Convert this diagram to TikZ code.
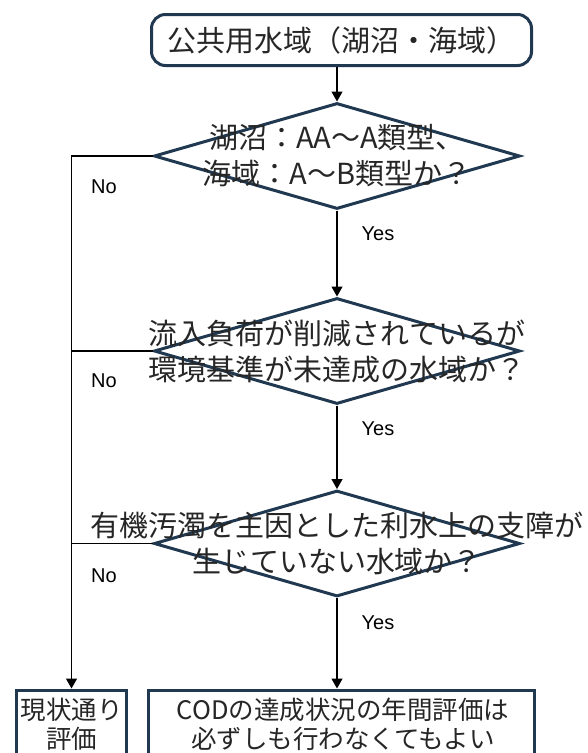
\documentclass[tikz,border=0pt]{standalone}
\usepackage{fontspec}
\newfontfamily\jpfont{Noto Sans CJK JP}
\newfontfamily\latfont{Liberation Sans}
\usetikzlibrary{shapes.geometric,arrows.meta,calc}
\definecolor{navy}{HTML}{203850}
\definecolor{inkc}{HTML}{262626}
\begin{document}
\begin{tikzpicture}[x=1pt,y=-1pt,
  startbox/.style={draw=navy,line width=3pt,rounded corners=14pt,minimum width=380pt,minimum height=51pt,inner sep=0pt,
    font=\jpfont\fontsize{29pt}{36pt}\selectfont,text=inkc},
  dia/.style={diamond,draw=navy,line width=3pt,minimum width=366pt,minimum height=106pt,inner sep=0pt},
  dtext/.style={font=\jpfont\fontsize{29pt}{36pt}\selectfont,text=inkc,align=center,inner sep=0pt},
  endbox/.style={draw=navy,line width=3pt,inner sep=0pt,minimum height=110pt,anchor=north},
  btext/.style={font=\jpfont\fontsize{25.5pt}{29pt}\selectfont,text=inkc,align=center,inner sep=0pt},
  lbl/.style={font=\latfont\fontsize{20pt}{24pt}\selectfont,text=black,inner sep=0pt},
  conn/.style={draw=black,line width=1.3pt},
  arr/.style={conn,-{Triangle[length=10pt,width=11pt]}}]
\useasboundingbox (0,0) rectangle (588,753);
\clip (0,0) rectangle (588,753);

\node[startbox] (top) at (341.5,40) {公共用水域（湖沼・海域）};

\node[dia] (d1) at (337,156) {};
\node[dia] (d2) at (337,351) {};
\node[dia] (d3) at (337,543.5) {};

\node[endbox,minimum width=110pt] (b1) at (71.5,688.5) {};
\node[endbox,minimum width=386pt] (b2) at (341.5,688.5) {};

\node[dtext] (t1) at (d1.center) {湖沼：AA～A類型、\\海域：A～B類型か？};
\node[dtext] (t2) at (d2.center) {流入負荷が削減されているが\\環境基準が未達成の水域か？};
\node[dtext] (t3) at (d3.center) {有機汚濁を主因とした利水上の支障が\\生じていない水域か？};

\node[btext] (b1t) at (71.5,724) {現状通り\\評価};
\node[btext] (b2t) at (343,724) {CODの達成状況の年間評価は\\必ずしも行わなくてもよい};

\draw[arr] (top.south -| d1.north) -- (d1.north);
\draw[arr] (d1.south) -- (d2.north);
\draw[arr] (d2.south) -- (d3.north);
\draw[arr] (d3.south) -- (d3.south |- b2.north);
\draw[arr] (d1.west) -| (b1.north);
\draw[conn] (d2.west) -- (d2.west -| b1.north);
\draw[conn] (d3.west) -- (d3.west -| b1.north);

\node[lbl] (n1) at (104,187) {No};
\node[lbl] (n2) at (104,381) {No};
\node[lbl] (n3) at (104,576) {No};
\node[lbl] (y1) at (378,234) {Yes};
\node[lbl] (y2) at (378,429) {Yes};
\node[lbl] (y3) at (378,623) {Yes};
\end{tikzpicture}
\end{document}
